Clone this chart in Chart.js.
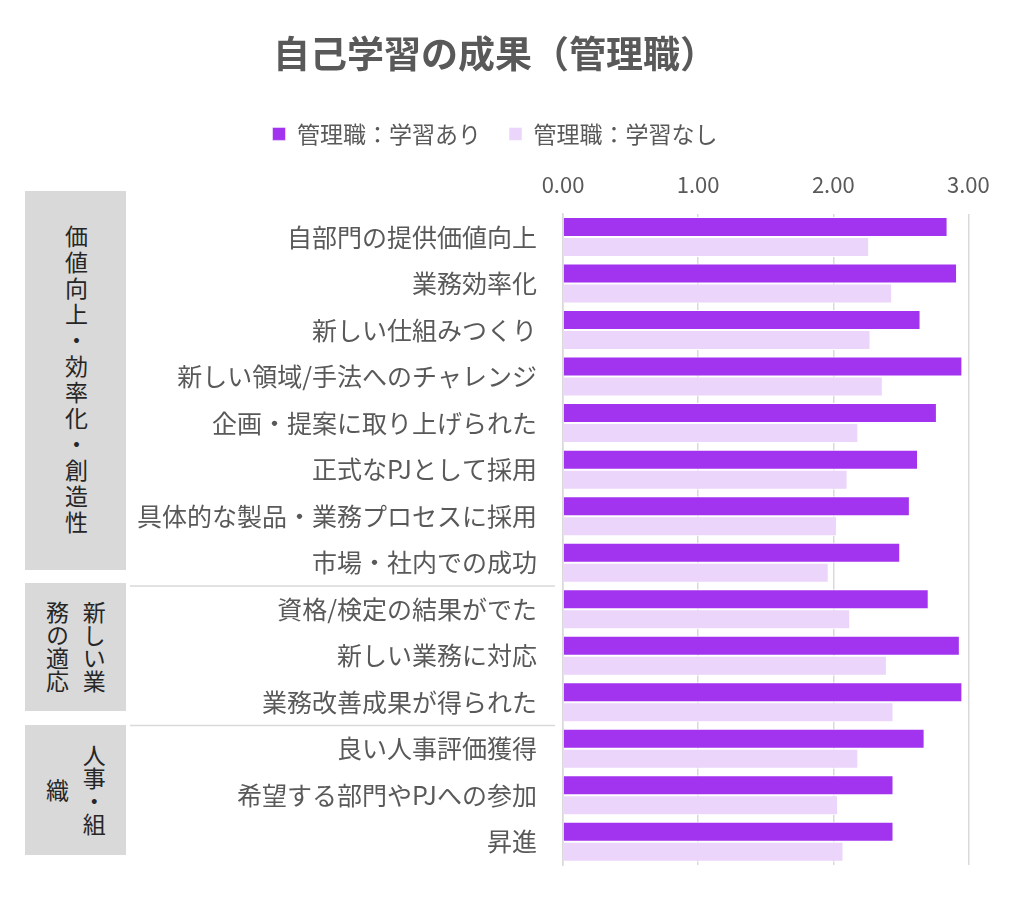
<!DOCTYPE html>
<html><head><meta charset="utf-8">
<script src="https://cdn.jsdelivr.net/npm/chart.js@4"></script>
<style>
body{margin:0;background:#fff;font-family:"Noto Sans CJK JP";}
#wrap{position:relative;width:1024px;height:914px;}
.grp{position:absolute;left:25px;width:101px;background:#d9d9d9;display:flex;align-items:center;justify-content:center;}
.grp div{writing-mode:vertical-rl;text-align:center;font-size:23px;color:#262626;line-height:1.3;}
</style></head><body>
<div id="wrap"><canvas id="c" width="1024" height="914"></canvas>
<div class="grp" style="top:191px;height:379px"><div style="letter-spacing:3px">価値向上・効率化・創造性</div></div>
<div class="grp" style="top:583px;height:128px"><div style="line-height:1.6">新しい業<br>務の適応</div></div>
<div class="grp" style="top:725px;height:130px"><div style="line-height:1.6">人事・組<br>織</div></div>
</div>
<script>
const categories=["自部門の提供価値向上","業務効率化","新しい仕組みつくり","新しい領域/手法へのチャレンジ","企画・提案に取り上げられた","正式なPJとして採用","具体的な製品・業務プロセスに採用","市場・社内での成功","資格/検定の結果がでた","新しい業務に対応","業務改善成果が得られた","良い人事評価獲得","希望する部門やPJへの参加","昇進"];
const withStudy=[2.84,2.91,2.64,2.95,2.76,2.62,2.56,2.49,2.70,2.93,2.95,2.67,2.44,2.44];
const withoutStudy=[2.26,2.43,2.27,2.36,2.18,2.10,2.02,1.96,2.12,2.39,2.44,2.18,2.03,2.07];
const seriesNames=["管理職：学習あり","管理職：学習なし"];
const xTicks=[0,1,2,3];
const F='"Noto Sans CJK JP"';
const sep={id:'sep',afterDraw(ch){const y=ch.scales.y,ctx=ch.ctx;ctx.save();ctx.strokeStyle='#d9d9d9';ctx.lineWidth=1.5;
[7,10].forEach(i=>{const yy=(y.getPixelForValue(i)+y.getPixelForValue(i+1))/2;ctx.beginPath();ctx.moveTo(130,yy);ctx.lineTo(555,yy);ctx.stroke();});ctx.restore();}};
new Chart(document.getElementById('c'),{type:'bar',
data:{labels:categories,datasets:[
{label:seriesNames[0],data:withStudy,backgroundColor:'#a233ef',borderColor:'#ffffff',borderWidth:{top:1,bottom:1},categoryPercentage:0.86,barPercentage:1},
{label:seriesNames[1],data:withoutStudy,backgroundColor:'#ebd5fa',borderColor:'#ffffff',borderWidth:{top:1,bottom:1},categoryPercentage:0.86,barPercentage:1}]},
options:{indexAxis:'y',responsive:false,animation:false,
layout:{padding:{left:0,right:34,top:32,bottom:49}},
plugins:{title:{display:true,text:'自己学習の成果（管理職）',color:'#595959',font:{family:F,size:37,weight:'bold'},padding:{top:0,bottom:18}},
legend:{labels:{usePointStyle:true,pointStyle:'rect',boxWidth:13,boxHeight:13,color:'#595959',font:{family:F,size:23},padding:28}},tooltip:{enabled:false}},
scales:{x:{position:'top',min:0,max:3.16,afterBuildTicks(s){s.ticks=xTicks.map(v=>({value:v}));},
ticks:{color:'#595959',font:{family:F,size:22},padding:16,callback:v=>v.toFixed(2)},
grid:{color:'#d9d9d9',lineWidth:1.5,drawTicks:false},border:{display:false}},
y:{afterFit(s){s.width=563;},ticks:{color:'#595959',font:{family:F,size:25},padding:18},grid:{display:false},border:{color:'#d9d9d9',width:1.5}}}},
plugins:[sep]});
</script></body></html>
